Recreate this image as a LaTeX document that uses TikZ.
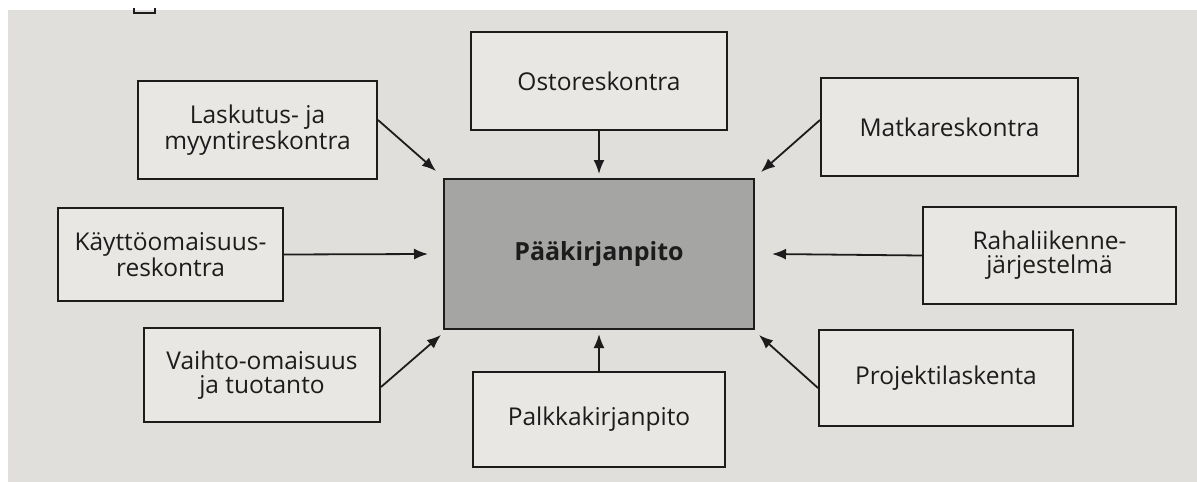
\documentclass[tikz,border=0pt]{standalone}
\usepackage{fontspec}
\setmainfont{Open Sans}
\usetikzlibrary{arrows.meta,calc}
\definecolor{paper}{RGB}{224,223,220}
\definecolor{boxfill}{RGB}{232,231,228}
\definecolor{mainfill}{RGB}{165,165,164}
\definecolor{ink}{RGB}{28,28,28}
\tikzset{
  plainbox/.style={draw=ink, line width=2pt, fill=boxfill, align=center, inner sep=0pt,
    text=ink, font=\fontsize{24.5}{24}\selectfont},
  mainbox/.style={plainbox, fill=mainfill, font=\fontsize{25}{24}\selectfont\bfseries},
  feed/.style={draw=ink, line width=1.8pt, -{Latex[length=14pt,width=11pt]}}
}
\begin{document}
\begin{tikzpicture}[x=1pt,y=-1pt]
\useasboundingbox (0,0) rectangle (1197,482);
\fill[white] (0,0) rectangle (1197,482);
\fill[paper] (8,10) rectangle (1197,482);
% fragment of the page above
\draw[ink, line width=1.6pt] (134,8) -- (134,13) -- (155,13) -- (155,8);

\node[mainbox, minimum width=310pt, minimum height=150pt] (paa) at (599,254) {Pääkirjanpito};
\node[plainbox, minimum width=256pt, minimum height=98pt] (ost) at (599,81) {Ostoreskontra};
\node[plainbox, minimum width=239pt, minimum height=98pt] (lask) at (257.5,130) {Laskutus- ja\\myyntireskontra};
\node[plainbox, minimum width=257pt, minimum height=98pt] (matka) at (949.5,127) {Matkareskontra};
\node[plainbox, minimum width=225pt, minimum height=93pt] (kaytto) at (170.5,254.5) {Käyttöomaisuus-\\reskontra};
\node[plainbox, minimum width=253pt, minimum height=97pt] (raha) at (1049.5,255.5) {Rahaliikenne-\\järjestelmä};
\node[plainbox, minimum width=236pt, minimum height=94pt] (vaihto) at (262,375) {Vaihto-omaisuus\\ja tuotanto};
\node[plainbox, minimum width=252pt, minimum height=95pt] (palkka) at (599,419.5) {Palkkakirjanpito};
\node[plainbox, minimum width=254pt, minimum height=96pt] (proj) at (946,378) {Projektilaskenta};

\draw[feed] ($(lask.east)+(0,-10)$) -- ($(paa.north west)+(-7,-7)$);
\draw[feed] (ost.south) -- ($(paa.north)+(0,-4)$);
\draw[feed] ($(matka.west)+(0,-7)$) -- ($(paa.north east)+(6,-6)$);
\draw[feed] (kaytto.east) -- ($(paa.west)+(-15,0)$);
\draw[feed] (raha.west) -- ($(paa.east)+(17,0)$);
\draw[feed] ($(vaihto.east)+(0,12)$) -- ($(paa.south west)+(-2,5)$);
\draw[feed] (palkka.north) -- ($(paa.south)+(0,4)$);
\draw[feed] ($(proj.west)+(0,10)$) -- ($(paa.south east)+(4,5)$);
\end{tikzpicture}
\end{document}
